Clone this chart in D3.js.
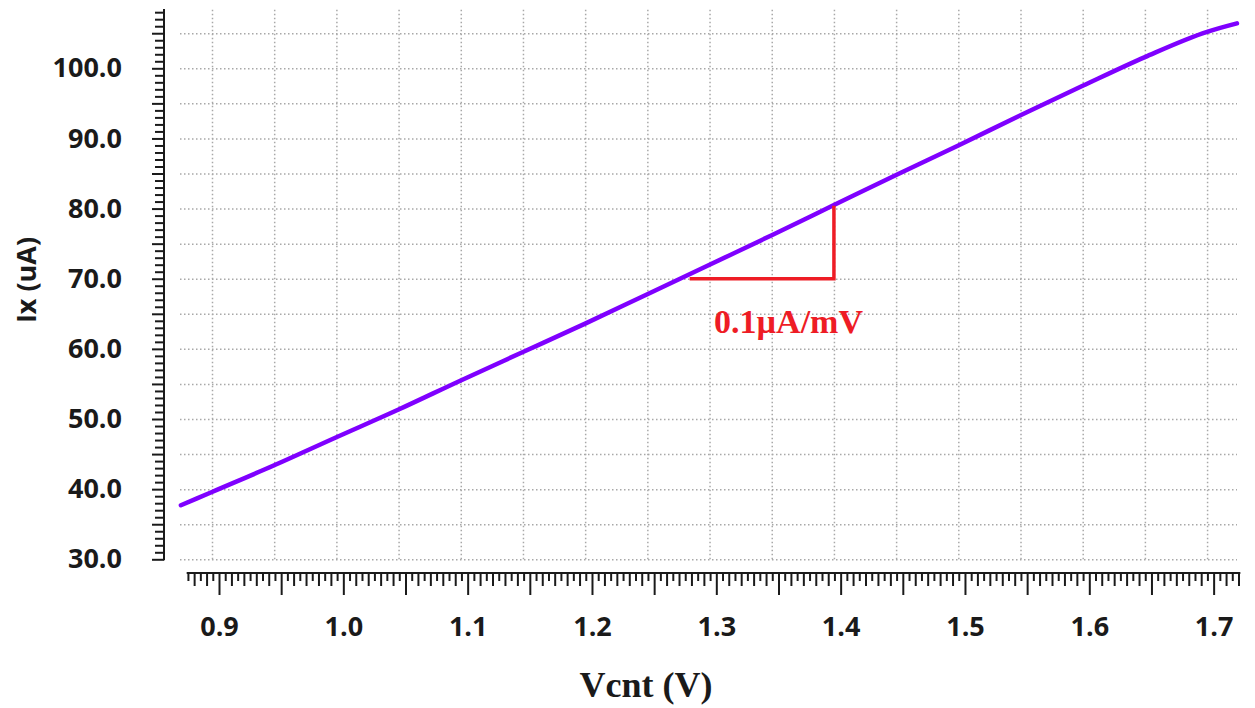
<!DOCTYPE html>
<html>
<head>
<meta charset="utf-8">
<script src="https://cdn.jsdelivr.net/npm/d3@7"></script>
<style>
body { margin: 0; background: #fff; }
svg { display: block; }
</style>
</head>
<body>
<svg width="1255" height="708"></svg>
<script>
// values
const vcnt = [0.875, 0.9, 0.95, 1.0, 1.05, 1.1, 1.15, 1.2, 1.25, 1.3, 1.35, 1.4, 1.45, 1.5, 1.55, 1.6, 1.65, 1.7, 1.724];
const ix   = [37.7, 39.6, 43.4, 47.4, 51.35, 55.5, 59.55, 63.6, 67.8, 72.0, 76.2, 80.5, 84.8, 89.0, 93.3, 97.5, 101.6, 105.2, 106.4];
const xTickVals = [0.9, 1.0, 1.1, 1.2, 1.3, 1.4, 1.5, 1.6, 1.7];
const yTickVals = [30, 40, 50, 60, 70, 80, 90, 100, 110];
// slope marker
const slopeV = [1.284, 1.4, 1.4];
const slopeI = [70, 70, 80.4];
const slopeLabel = "0.1\u00b5A/mV";

const svg = d3.select("svg");

// plot area scales (grid + data)
const x = d3.scaleLinear().domain([0.9, 1.6]).range([212, 1082.7]);
const y = d3.scaleLinear().domain([30, 100]).range([559.3, 68.3]);
// the tick ruler sits a few px right of the grid
const xa = d3.scaleLinear().domain([0.9, 1.6]).range([219, 1089.3]);

const gridLeft = 180, gridRight = 1237, gridTop = 9, gridBottom = 559.3;

// grid
const vGrid = d3.range(18, 35).map(k => k * 0.05);
const hGrid = d3.range(6, 22).map(k => k * 5);

svg.append("g")
  .attr("transform", "translate(0," + gridBottom + ")")
  .call(d3.axisBottom(x).tickValues(vGrid).tickSize(-(gridBottom - gridTop)).tickFormat(""))
  .call(g => g.select(".domain").remove())
  .selectAll("line")
  .attr("stroke", "#a8a8a8").attr("stroke-width", 1.5).attr("stroke-dasharray", "1.5,2.5");

svg.append("g")
  .attr("transform", "translate(" + gridLeft + ",0)")
  .call(d3.axisLeft(y).tickValues(hGrid).tickSize(-(gridRight - gridLeft)).tickFormat(""))
  .call(g => g.select(".domain").remove())
  .selectAll("line")
  .attr("stroke", "#a8a8a8").attr("stroke-width", 1.5).attr("stroke-dasharray", "1.5,2.5");

// x ruler
const xAxisY = 573;
const xStep = 0.005;
const xAll = d3.range(0, 170).map(k => +(0.875 + k * xStep).toFixed(3));
const xMinor = xAll.filter(v => Math.round(v * 1000) % 10 !== 0);
const xMid = xAll.filter(v => Math.round(v * 1000) % 10 === 0 && Math.round(v * 1000) % 50 !== 0);
const xMajor = xAll.filter(v => Math.round(v * 1000) % 50 === 0);

function ruler(g) {
  g.select(".domain").remove();
  g.selectAll("line").attr("stroke", "#1a1a1a").attr("stroke-width", 2);
}
[[xMinor, 8], [xMid, 13], [xMajor, 22]].forEach(([vals, len]) => {
  svg.append("g")
    .attr("transform", "translate(0," + xAxisY + ")")
    .call(d3.axisBottom(xa).tickValues(vals).tickSize(len).tickFormat(""))
    .call(ruler);
});
svg.append("line")
  .attr("x1", xa(0.874)).attr("x2", xa(1.7215))
  .attr("y1", xAxisY).attr("y2", xAxisY)
  .attr("stroke", "#1a1a1a").attr("stroke-width", 2);

svg.append("g")
  .attr("transform", "translate(0," + xAxisY + ")")
  .call(d3.axisBottom(xa).tickValues(xTickVals).tickSize(0).tickPadding(44).tickFormat(d3.format(".1f")))
  .call(g => g.select(".domain").remove())
  .selectAll("text")
  .attr("font-family", "'Open Sans', sans-serif").attr("font-weight", "bold")
  .attr("font-size", 27).attr("fill", "#1a1a1a");

// y ruler
const yAxisX = 164;
const yAll = d3.range(30, 109);
[[yAll.filter(v => v % 5 !== 0), 9], [yAll.filter(v => v % 5 === 0), 12]].forEach(([vals, len]) => {
  svg.append("g")
    .attr("transform", "translate(" + yAxisX + ",0)")
    .call(d3.axisLeft(y).tickValues(vals).tickSize(len).tickFormat(""))
    .call(ruler);
});
svg.append("line")
  .attr("x1", yAxisX).attr("x2", yAxisX)
  .attr("y1", gridTop).attr("y2", y(30) + 1)
  .attr("stroke", "#1a1a1a").attr("stroke-width", 2);

svg.append("g")
  .attr("transform", "translate(" + yAxisX + ",0)")
  .call(d3.axisLeft(y).tickValues(yTickVals).tickSize(0).tickPadding(42).tickFormat(d3.format(".1f")))
  .call(g => g.select(".domain").remove())
  .selectAll("text")
  .attr("font-family", "'Open Sans', sans-serif").attr("font-weight", "bold")
  .attr("font-size", 27).attr("fill", "#1a1a1a")
  // the top label is mostly cropped off in the original
  .filter(d => d === 110).attr("dy", "0.32em").attr("y", -7);

// curve
const line = d3.line()
  .x((d, i) => x(vcnt[i]))
  .y((d, i) => y(ix[i]))
  .curve(d3.curveMonotoneX);
svg.append("path")
  .datum(ix)
  .attr("d", line)
  .attr("fill", "none")
  .attr("stroke", "#7f00ff")
  .attr("stroke-width", 4.5)
  .attr("stroke-linecap", "round");

// slope marker
const slopeLine = d3.line()
  .x((d, i) => x(slopeV[i]))
  .y((d, i) => y(slopeI[i]));
svg.append("path")
  .datum(slopeI)
  .attr("d", slopeLine)
  .attr("fill", "none")
  .attr("stroke", "#ee1c25")
  .attr("stroke-width", 3.5);
svg.append("text")
  .attr("x", 714).attr("y", 333)
  .attr("font-family", "'Liberation Serif', 'Times New Roman', serif")
  .attr("font-weight", "bold").attr("font-size", 34)
  .attr("fill", "#ee1c25")
  .text(slopeLabel);

// axis titles
svg.append("text")
  .attr("x", 646).attr("y", 697)
  .attr("text-anchor", "middle")
  .attr("font-family", "'Liberation Serif', 'Times New Roman', serif")
  .attr("font-weight", "bold").attr("font-size", 36)
  .attr("fill", "#1a1a1a")
  .text("Vcnt (V)");

svg.append("text")
  .attr("transform", "translate(36,280) rotate(-90)")
  .attr("text-anchor", "middle")
  .attr("font-family", "'Open Sans', sans-serif")
  .attr("font-weight", "bold").attr("font-size", 27)
  .attr("fill", "#1a1a1a")
  .text("Ix (uA)");
</script>
</body>
</html>
